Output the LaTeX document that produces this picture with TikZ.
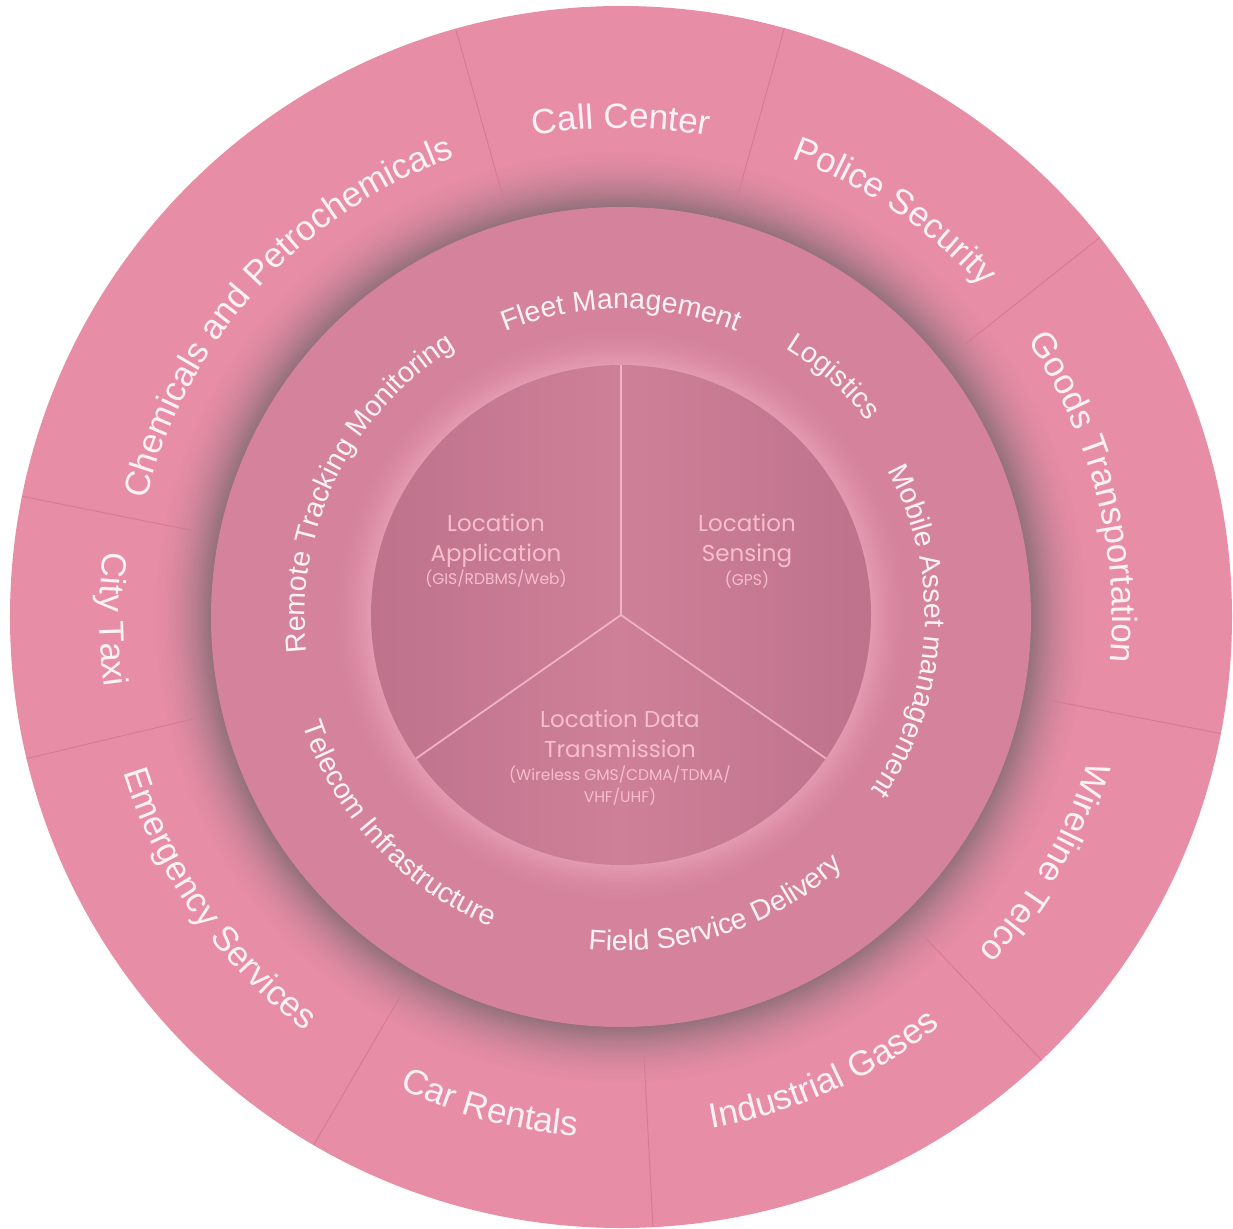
\documentclass[tikz,border=0pt]{standalone}
\usepackage{fontspec}
\setmainfont{Liberation Sans}
\newfontfamily\geofont{Poppins}
\usetikzlibrary{decorations.text}
\definecolor{outerpink}{RGB}{232,141,166}
\definecolor{midpink}{RGB}{213,131,156}
\definecolor{innerdark}{RGB}{191,114,140}
\definecolor{innerlight}{RGB}{206,128,153}
\definecolor{shadowc}{RGB}{146,112,124}
\definecolor{glowc}{RGB}{228,156,178}
\definecolor{ringtext}{RGB}{255,242,246}
\definecolor{innertext}{RGB}{247,190,206}
\definecolor{innerline}{RGB}{240,178,197}
\definecolor{divider}{RGB}{212,122,148}
\newcommand\outerfont{\fontsize{35}{42}\selectfont\color{ringtext}}
\newcommand\midfont{\fontsize{28.5}{34}\selectfont\color{ringtext}}
\newcommand\cwtext[4]{\path[decorate,decoration={text along path,text align=center,text={|#3|#4}}] (#1+70:#2) arc[start angle=#1+70,end angle=#1-70,radius=#2];}
\newcommand\ccwtext[4]{\path[decorate,decoration={text along path,text align=center,text={|#3|#4}}] (#1-70:#2) arc[start angle=#1-70,end angle=#1+70,radius=#2];}
\tikzset{
  inbig/.style={font=\geofont\fontsize{23}{28}\selectfont, text=innertext, inner sep=0pt, anchor=base},
  insmall/.style={font=\geofont\fontsize{15.5}{18}\selectfont, text=innertext, inner sep=0pt, anchor=base},
  divline/.style={divider, line width=0.9pt},
  yline/.style={innerline, line width=1.8pt}
}
\begin{document}
\begin{tikzpicture}[x=1pt,y=1pt]
\useasboundingbox (-621,-611) rectangle (612,617);
\coordinate (O) at (0,0);
\coordinate (C) at (0,2);
% outer ring
\fill[outerpink] (O) circle (611);
% shadow around middle disk
\foreach \i in {0,...,44}{
  \pgfmathsetmacro\r{476-\i*1.5}
  \pgfmathsetmacro\t{100*(\i/44)^2}
  \fill[shadowc!\t!outerpink] (O) circle (\r);
}
% dividers
\foreach \a in {38.4,74.5,105.7,168.6,193.4,239.8,273,313.5,349}
  \draw[divline] (\a:438) -- (\a:611);
% middle disk
\fill[midpink] (O) circle (410);
% glow round inner circle
\foreach \i in {0,...,30}{
  \pgfmathsetmacro\r{290-\i*1.33}
  \pgfmathsetmacro\t{100*(\i/30)^1.8}
  \fill[glowc!\t!midpink] (C) circle (\r);
}
% inner circle
\shade[left color=innerdark, right color=innerdark, middle color=innerlight] (C) circle (250);
\path (C) ++(90:250) coordinate (Ytop);
\path (C) ++(215:250) coordinate (Yleft);
\path (C) ++(325:250) coordinate (Yright);
\draw[yline] (C) -- (Ytop);
\draw[yline] (C) -- (Yleft);
\draw[yline] (C) -- (Yright);
% outer ring texts
\cwtext{90}{489}{\outerfont}{Call Center}
\cwtext{56}{489}{\outerfont}{Police Security}
\cwtext{14.5}{491}{\outerfont}{Goods Transportation}
\cwtext{-30}{489}{\outerfont}{Wireline Telco}
\cwtext{138}{489}{\outerfont}{Chemicals and Petrochemicals}
\ccwtext{-66}{519}{\outerfont}{Industrial Gases}
\ccwtext{255}{521}{\outerfont}{Car Rentals}
\ccwtext{215}{521}{\outerfont}{Emergency Services}
\ccwtext{180.3}{521}{\outerfont}{City Taxi}
% middle ring texts
\cwtext{90}{308}{\midfont}{Fleet Management}
\cwtext{48.5}{315}{\midfont}{Logistics}
\cwtext{-3}{304}{\midfont}{Mobile Asset management}
\cwtext{154}{316}{\midfont}{Remote Tracking Monitoring}
\ccwtext{-72}{334}{\midfont}{Field Service Delivery}
\ccwtext{223}{336}{\midfont}{Telecom Infrastructure}
% inner texts
\node[inbig] (la1) at (-125,85) {Location};
\node[inbig] (la2) at (-125,55) {Application};
\node[insmall] (la3) at (-125,32) {(GIS/RDBMS/Web)};
\node[inbig] (ls1) at (126,85) {Location};
\node[inbig] (ls2) at (126,55) {Sensing};
\node[insmall] (ls3) at (126,31) {(GPS)};
\node[inbig] (lt1) at (-1,-110) {Location Data};
\node[inbig] (lt2) at (-1,-140) {Transmission};
\node[insmall] (lt3) at (-1,-163) {(Wireless GMS/CDMA/TDMA/};
\node[insmall] (lt4) at (-1,-185) {VHF/UHF)};
\end{tikzpicture}
\end{document}
